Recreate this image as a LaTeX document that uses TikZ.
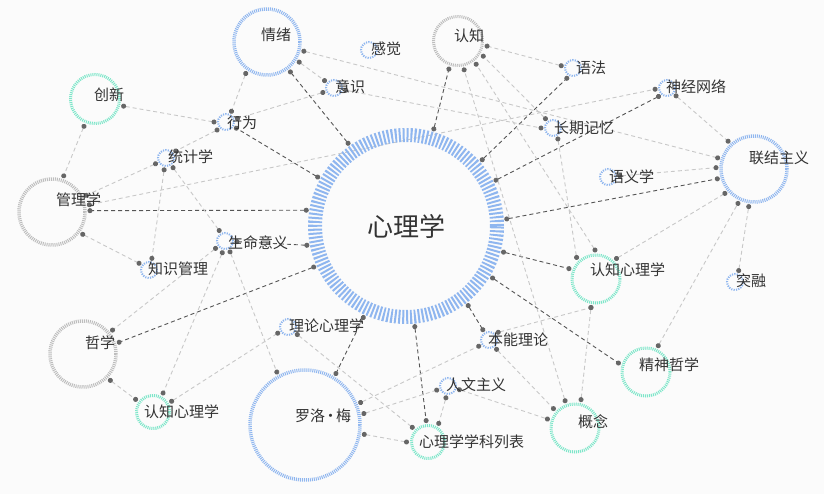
\documentclass[tikz,border=0pt]{standalone}
\usepackage{fontspec}
\setmainfont{Noto Sans CJK SC}
\usepackage{tikz}
\usetikzlibrary{arrows.meta}
\usetikzlibrary{backgrounds}

\definecolor{ringblue}{HTML}{8FB6EF}
\definecolor{ringgreen}{HTML}{7DE6C9}
\definecolor{ringgray}{HTML}{BDBDBD}
\definecolor{dotgray}{HTML}{666666}
\definecolor{darkline}{HTML}{555555}
\definecolor{lightline}{HTML}{C8C8C8}
\definecolor{textgray}{HTML}{333333}
\definecolor{bggray}{HTML}{FBFBFB}

\begin{document}
\begin{tikzpicture}[x=1pt,y=-1pt,
    ring/.style={circle,inner sep=0pt,draw},
    hubring/.style={ring,draw=ringblue,minimum size=182pt,line width=14pt,dash pattern=on 2pt off 1.9pt,outer sep=10pt},
    bigring/.style={ring,minimum size=66pt,line width=3.5pt,dash pattern=on 1pt off 1pt,outer sep=5pt},
    midring/.style={ring,draw=ringgreen,minimum size=48pt,line width=3pt,dash pattern=on 1pt off 1pt,outer sep=5pt},
    smallring/.style={ring,draw=ringgreen,minimum size=33pt,line width=3pt,dash pattern=on 1pt off 1pt,outer sep=5pt},
    dotring/.style={ring,draw=ringblue,minimum size=16pt,line width=2pt,dash pattern=on 1.2pt off 1.2pt,outer sep=4pt},
    lbl/.style={anchor=west,inner sep=0pt,text=textgray,font=\fontsize{15}{15}\selectfont},
    edgebase/.style={dash pattern=on 4pt off 3pt,line width=0.9pt,
      arrows={Circle[length=5pt,color=dotgray]-Circle[length=5pt,color=dotgray]},
      shorten <=-2.5pt,shorten >=-2.5pt},
    darkedge/.style={edgebase,draw=darkline},
    lightedge/.style={edgebase,draw=lightline}]
  \useasboundingbox (0,0) rectangle (824,494);

  % nodes
  \node[hubring,text=textgray,font=\fontsize{26}{26}\selectfont] (xinli) at (406,226) {心理学};
  \node[bigring,draw=ringblue] (qingxu) at (267,42) {};
  \node[dotring] (ganjue) at (369,50) {};
  \node[dotring] (yishi) at (334,88) {};
  \node[midring,minimum size=49pt] (chuangxin) at (95,99) {};
  \node[dotring] (xingwei) at (226,122) {};
  \node[dotring] (tongji) at (166,158) {};
  \node[bigring,draw=ringgray] (guanli) at (52,212) {};
  \node[dotring] (shengming) at (225,241) {};
  \node[dotring] (zhishi) at (149,270) {};
  \node[bigring,draw=ringgray] (zhexue) at (83,354) {};
  \node[smallring] (renzhiL) at (153,412) {};
  \node[dotring] (lilun) at (288,327) {};
  \node[bigring,draw=ringblue,minimum size=110pt] (luoluo) at (305,425) {};
  \node[smallring] (liebiao) at (428,442) {};
  \node[dotring] (renwen) at (448,386) {};
  \node[dotring] (benneng) at (489,340) {};
  \node[midring] (gainian) at (575,428) {};
  \node[midring] (jingshen) at (646,372) {};
  \node[midring] (renzhiR) at (596,279) {};
  \node[dotring] (turong) at (735,282) {};
  \node[bigring,draw=ringblue] (lianjie) at (754,169) {};
  \node[dotring] (yuyi) at (608,177) {};
  \node[dotring] (changqi) at (553,128) {};
  \node[dotring] (shenjing) at (667,88) {};
  \node[dotring] (yufa) at (573,68) {};
  \node[midring,draw=ringgray,minimum size=49pt] (renzhi) at (458,41) {};

  % labels
  \node[lbl] (t-qingxu) at (261,35) {情绪};
  \node[lbl] (t-ganjue) at (371,49) {感觉};
  \node[lbl] (t-yishi) at (335,87) {意识};
  \node[lbl] (t-chuangxin) at (94,95) {创新};
  \node[lbl] (t-xingwei) at (227,123) {行为};
  \node[lbl] (t-tongji) at (168,157) {统计学};
  \node[lbl] (t-guanli) at (56,200) {管理学};
  \node[lbl] (t-shengming) at (228,243) {生命意义};
  \node[lbl] (t-zhishi) at (148,269) {知识管理};
  \node[lbl] (t-zhexue) at (85,343) {哲学};
  \node[lbl] (t-renzhiL) at (144,412) {认知心理学};
  \node[lbl] (t-lilun) at (289,326) {理论心理学};
  \node[lbl] (t-luoluo) at (295,416) {罗洛\hspace{-2pt}·\hspace{-2pt}梅};
  \node[lbl] (t-liebiao) at (419,442) {心理学学科列表};
  \node[lbl] (t-renwen) at (446,385) {人文主义};
  \node[lbl] (t-benneng) at (488,340) {本能理论};
  \node[lbl] (t-gainian) at (578,422) {概念};
  \node[lbl] (t-jingshen) at (639,365) {精神哲学};
  \node[lbl] (t-renzhiR) at (590,270) {认知心理学};
  \node[lbl] (t-turong) at (736,281) {突融};
  \node[lbl] (t-lianjie) at (749,158) {联结主义};
  \node[lbl] (t-yuyi) at (609,177) {语义学};
  \node[lbl] (t-changqi) at (554,128) {长期记忆};
  \node[lbl] (t-shenjing) at (666,87) {神经网络};
  \node[lbl] (t-yufa) at (576,68) {语法};
  \node[lbl] (t-renzhi) at (454,36) {认知};

  \begin{scope}[on background layer]
    \fill[bggray] (0,0) rectangle (824,494);
    % links to the hub
    \foreach \a/\b in {xinli.125/qingxu.-52, xinli.151/xingwei.-31, xinli.171/guanli.2,
        xinli.-169/shengming.-3, xinli.-156/zhexue.18, xinli.-115/luoluo.59,
        xinli.-85/liebiao.95, xinli.-52/benneng.121, xinli.-31/jingshen.162,
        xinli.-15/renzhiR.159, xinli.4/lianjie.-165, xinli.27/shenjing.-135,
        xinli.41/yufa.-121, xinli.74/renzhi.-108}
      \draw[darkedge] (\a) -- (\b);
    % other links
    \foreach \a/\b in {qingxu.-124/xingwei.63, qingxu.-32/yishi.142, qingxu.-14/lianjie.163,
        yishi.-158/xingwei.17, yishi.-11/changqi.180, chuangxin.-14/xingwei.180,
        chuangxin.-112/guanli.72, xingwei.-138/tongji.36, tongji.-151/guanli.26,
        tongji.-99/zhishi.76, tongji.-54/shengming.119, guanli.11/shenjing.-174,
        guanli.-36/zhishi.146, shengming.-142/zhexue.39, shengming.-103/renzhiL.62,
        shengming.-65/luoluo.118, zhexue.-44/renzhiL.144, renzhiL.30/lilun.-149,
        lilun.-39/liebiao.137, luoluo.22/benneng.-149, luoluo.11/renwen.-160,
        luoluo.-9/liebiao.180, renwen.-100/liebiao.60, renwen.-18/gainian.162,
        benneng.-51/gainian.138, benneng.40/renzhiR.-100, gainian.78/renzhiR.-100,
        gainian.110/renzhi.-78, renzhiR.92/renzhi.-52, renzhiR.132/changqi.-66,
        renzhiR.45/lianjie.-140, jingshen.65/lianjie.-115, turong.72/lianjie.-98,
        yuyi.5/lianjie.178, shenjing.-41/lianjie.133, changqi.129/renzhi.-31,
        yufa.169/renzhi.-10}
      \draw[lightedge] (\a) -- (\b);
  \end{scope}
\end{tikzpicture}
\end{document}
